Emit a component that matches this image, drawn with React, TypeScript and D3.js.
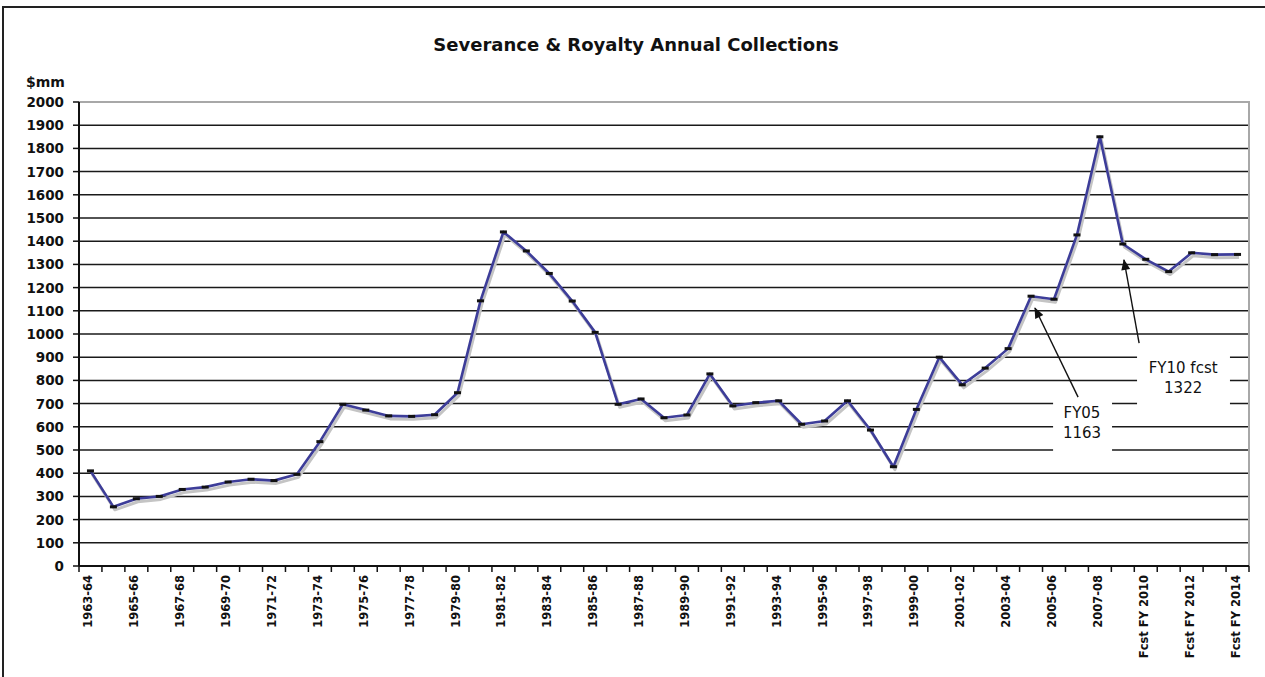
import React from "react";
import * as d3 from "d3";

// Fiscal-year categories: actuals 1963-64 .. 2008-09, then forecasts FY 2010 .. FY 2014
const actualYears: string[] = d3.range(1963, 2009).map(
  (y) => `${y}-${String((y + 1) % 100).padStart(2, "0")}`
);
const forecastYears: string[] = ["Fcst FY 2010", "Fcst FY 2011", "Fcst FY 2012", "Fcst FY 2013", "Fcst FY 2014"];
const categories: string[] = [...actualYears, ...forecastYears];

// Annual collections, $ millions
const collections: number[] = [
  410, 255, 290, 300, 330, 340, 362, 374, 368, 395,
  536, 697, 672, 647, 645, 652, 747, 1143, 1440, 1358,
  1261, 1142, 1007, 697, 720, 639, 651, 828, 690, 704,
  712, 611, 625, 712, 586, 428, 675, 900, 781, 853,
  937, 1163, 1150, 1427, 1850, 1388, 1322, 1269, 1350, 1342,
  1343,
];

const yTicks: number[] = d3.range(0, 2001, 100);

const W = 1265;
const H = 677;
const plot = { left: 79, right: 1249, top: 102, bottom: 566 };
const FONT = "'DejaVu Sans', Verdana, sans-serif";

export default function App() {
  const x = d3.scaleBand<string>().domain(categories).range([plot.left, plot.right]).padding(0);
  // continuous position in category units, used for call-out placement
  const xu = d3.scaleLinear().domain([0, categories.length]).range([plot.left, plot.right]);
  const y = d3.scaleLinear().domain([0, 2000]).range([plot.bottom, plot.top]);
  const cx = (c: string) => (x(c) as number) + x.bandwidth() / 2;

  const pts: [number, number][] = categories.map((c, i) => [cx(c), y(collections[i])]);
  const line = d3.line<[number, number]>().x((d) => d[0]).y((d) => d[1]);
  const path = line(pts) || "";

  const callouts = [
    { lines: ["FY05", "1163"], tip: [41.67, 1112], tail: [43.55, 728], box: [42.46, 45.03, 759, 457], text: [43.72, 660] },
    { lines: ["FY10 fcst", "1322"], tip: [45.55, 1319], tail: [46.21, 961], box: [46.12, 50.17, 931, 672], text: [48.13, 855] },
  ];

  const boundaries = d3.range(0, categories.length + 1).map((i) => plot.left + i * x.step());

  return (
    <svg width={W} height={H} style={{ position: "absolute", left: 0, top: 0, background: "#fff" }} fontFamily={FONT}>
      <defs>
        <marker id="arrowHead" viewBox="0 0 12 10" refX="11" refY="5" markerWidth="13" markerHeight="9" markerUnits="userSpaceOnUse" orient="auto">
          <path d="M0,0 L12,5 L0,10 z" fill="#111" />
        </marker>
      </defs>
      <rect x={0} y={0} width={W} height={H} fill="#fff" />
      {/* outer frame */}
      <path d={`M3,${H} L3,7 L${W},7`} fill="none" stroke="#222" strokeWidth={2} />

      <text x={636} y={44} textAnchor="middle" dominantBaseline="central" fontWeight="bold" fontSize={18} fill="#111">
        Severance &amp; Royalty Annual Collections
      </text>
      <text x={26} y={82} dominantBaseline="central" fontWeight="bold" fontSize={14} fill="#111">$mm</text>

      {/* gridlines */}
      {yTicks.filter((t) => t > 0 && t < 2000).map((t) => (
        <line key={t} x1={plot.left} x2={plot.right} y1={y(t)} y2={y(t)} stroke="#1a1a1a" strokeWidth={1.5} />
      ))}
      {/* plot-area border, top and right */}
      <path d={`M${plot.left},${y(2000)} L${plot.right},${y(2000)} L${plot.right},${plot.bottom}`} fill="none" stroke="#a8a8a8" strokeWidth={2} />

      {/* call-out boxes mask the gridlines */}
      {callouts.map((c, i) => (
        <rect key={i} x={xu(c.box[0])} width={xu(c.box[1]) - xu(c.box[0])} y={y(c.box[2])} height={y(c.box[3]) - y(c.box[2])} fill="#fff" />
      ))}

      {/* y axis */}
      <line x1={plot.left} x2={plot.left} y1={plot.top} y2={plot.bottom} stroke="#111" strokeWidth={2} />
      {yTicks.map((t) => (
        <g key={t}>
          <line x1={plot.left - 6} x2={plot.left} y1={y(t)} y2={y(t)} stroke="#111" strokeWidth={1.5} />
          <text x={64} y={y(t)} textAnchor="end" dominantBaseline="central" fontSize={13.5} fontWeight="bold" fill="#111">
            {t}
          </text>
        </g>
      ))}

      {/* x axis */}
      <line x1={plot.left} x2={plot.right} y1={plot.bottom} y2={plot.bottom} stroke="#111" strokeWidth={2} />
      {boundaries.map((bx, i) => (
        <line key={i} x1={bx} x2={bx} y1={plot.bottom} y2={plot.bottom + 6} stroke="#111" strokeWidth={1.5} />
      ))}
      {categories.map((c, i) =>
        i % 2 === 0 ? (
          <text
            key={c}
            transform={`translate(${cx(c) - 2},${plot.bottom + 9}) rotate(-90)`}
            textAnchor="end"
            dominantBaseline="central"
            fontSize={11.5}
            fontWeight="bold"
            fill="#111"
          >
            {c}
          </text>
        ) : null
      )}

      {/* series: soft shadow, line, dash markers */}
      <path d={path} transform="translate(1.5,3)" fill="none" stroke="#c4c4c4" strokeWidth={3} strokeLinejoin="round" />
      <path d={path} fill="none" stroke="#3d3d99" strokeWidth={2.6} strokeLinejoin="round" />
      {pts.map((p, i) => (
        <rect key={i} x={p[0] - 3.5} y={p[1] - 1.5} width={7} height={3} fill="#111" />
      ))}

      {/* call-outs */}
      {callouts.map((c, i) => (
        <g key={i}>
          <line
            x1={xu(c.tail[0])}
            y1={y(c.tail[1])}
            x2={xu(c.tip[0])}
            y2={y(c.tip[1])}
            stroke="#111"
            strokeWidth={1.4}
            markerEnd="url(#arrowHead)"
          />
          {c.lines.map((l, j) => (
            <text
              key={j}
              x={xu(c.text[0])}
              y={y(c.text[1]) + j * 20}
              textAnchor="middle"
              dominantBaseline="central"
              fontSize={15}
              fill="#111"
            >
              {l}
            </text>
          ))}
        </g>
      ))}
    </svg>
  );
}
